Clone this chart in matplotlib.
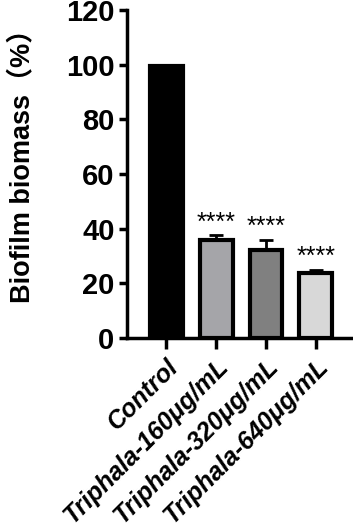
import matplotlib
matplotlib.use("Agg")
import matplotlib.pyplot as plt

groups = ["Control", "Triphala-160μg/mL", "Triphala-320μg/mL", "Triphala-640μg/mL"]
means = [99.6, 36.0, 32.1, 23.8]
errs = [0.4, 1.6, 3.7, 1.0]
colors = ["#000000", "#a5a5a9", "#808080", "#d8d8d8"]
stars = ["", "****", "****", "****"]

plt.rcParams["font.family"] = ["Liberation Sans", "Noto Sans CJK SC"]

fig = plt.figure(figsize=(3.53, 5.28), dpi=100)
ax = fig.add_axes([0.36, 0.36, 0.637, 0.621])

x = range(len(groups))
ax.bar(x, means, width=0.66, color=colors, edgecolor="black", linewidth=3, zorder=2)
ax.errorbar(x, means, yerr=[[0] * len(errs), errs], fmt="none", ecolor="black",
            elinewidth=2, capsize=5, capthick=2, zorder=1)
for i, s in enumerate(stars):
    if s:
        ax.text(i, means[i] + errs[i] + 0.3, s, ha="center", va="bottom", fontsize=18)

ax.set_xlim(-0.78, 3.72)
ax.set_ylim(0, 120)
ax.set_yticks(range(0, 121, 20))
ax.set_xticks(list(x))
ax.set_xticklabels(groups, rotation=45, ha="right", rotation_mode="anchor",
                   fontsize=18, fontweight="bold", fontstyle="italic")
for lab in ax.get_yticklabels():
    lab.set_fontsize(21)
    lab.set_fontweight("bold")
ax.set_ylabel("Biofilm biomass（%）", fontsize=19.5, fontweight="bold")
ax.yaxis.set_label_coords(-0.41, 0.545)

for side in ["top", "right"]:
    ax.spines[side].set_visible(False)
for side in ["left", "bottom"]:
    ax.spines[side].set_linewidth(2.5)
ax.tick_params(axis="both", width=2.5)
ax.tick_params(axis="y", length=6, pad=3)
ax.tick_params(axis="x", length=8, pad=4)

fig.savefig("out.png", dpi=100)
